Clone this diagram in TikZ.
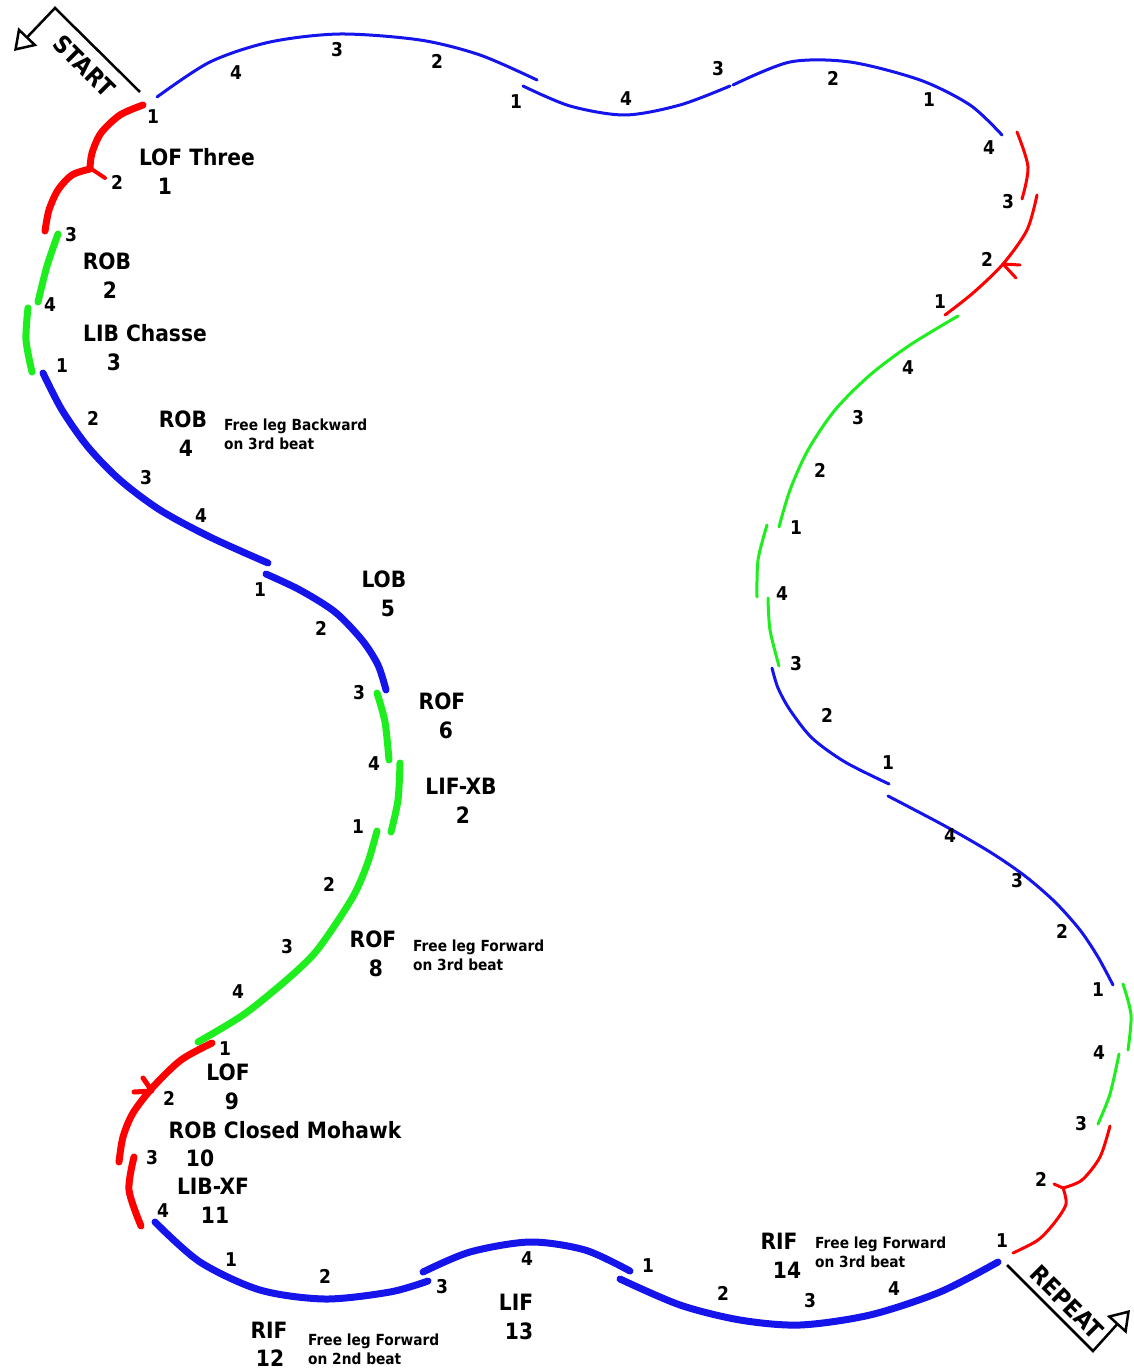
\documentclass[tikz,border=0pt]{standalone}
\usepackage{fontspec}
\setmainfont{DejaVu Sans Condensed}
\usetikzlibrary{arrows.meta}
\definecolor{trackred}{RGB}{255,0,0}
\definecolor{trackgreen}{RGB}{30,238,30}
\definecolor{trackblue}{RGB}{20,20,235}
\begin{document}
\begin{tikzpicture}[x=1pt,y=-1pt,
  edge/.style={line cap=round,line join=round},
  heavy/.style={edge,line width=7pt},
  light/.style={edge,line width=3pt},
  beat/.style={font=\fontsize{19}{19}\selectfont\bfseries,inner sep=0pt,text height=13.9pt,text depth=0pt},
  stepname/.style={font=\fontsize{22.5}{24}\selectfont\bfseries,inner sep=0pt,text height=16.4pt,text depth=0pt},
  note/.style={font=\fontsize{15.3}{19}\selectfont\bfseries,inner sep=0pt,align=left,anchor=west},
  banner/.style={font=\fontsize{24}{24}\selectfont\bfseries,inner sep=0pt,text height=17.5pt,text depth=0pt,rotate=-45},
  pointer/.style={line width=2.5pt,line join=miter,-{Triangle[open,length=20pt,width=26pt,line width=2.5pt]}}
]
\useasboundingbox (0,0) rectangle (1133,1370);

% ---------- left half of the pattern (heavy strokes) ----------
% LOF three turn
\draw[heavy,trackred] plot[smooth] coordinates {(143,105) (120,115) (101,133) (92,153) (90,168)};
\draw[heavy,trackred] plot[smooth] coordinates {(90,169) (72,175) (58,190) (49,210) (45,231)};
\draw[edge,trackred,line width=4pt] (90,168) -- (105,178);
% ROB, LIB chasse
\draw[heavy,trackgreen] plot[smooth] coordinates {(58,234) (47,266) (38,302)};
\draw[heavy,trackgreen] plot[smooth] coordinates {(28,308) (26,340) (32,372)};
% ROB
\draw[heavy,trackblue] plot[smooth] coordinates {(43,373) (62,410) (88,447) (120,480) (160,510) (210,537) (268,563)};
% LOB
\draw[heavy,trackblue] plot[smooth] coordinates {(266,574) (300,590) (335,612) (362,640) (378,665) (386,690)};
% ROF, LIF-XB
\draw[heavy,trackgreen] plot[smooth] coordinates {(377,693) (385,722) (389,760)};
\draw[heavy,trackgreen] plot[smooth] coordinates {(400,763) (398,800) (391,832)};
% ROF
\draw[heavy,trackgreen] plot[smooth] coordinates {(377,831) (368,862) (355,893) (335,925) (313,955) (283,983) (243,1015) (198,1042)};
% LOF to ROB closed mohawk
\draw[heavy,trackred] plot[smooth] coordinates {(212,1043) (181,1060) (153,1087) (133,1113) (123,1137) (119,1162)};
\draw[edge,trackred,line width=5pt] (143,1078) -- (152,1091) -- (134,1092);
% LIB-XF
\draw[heavy,trackred] plot[smooth] coordinates {(134,1157) (129,1190) (141,1226)};
% RIF, LIF, RIF
\draw[heavy,trackblue] plot[smooth] coordinates {(155,1222) (200,1262) (260,1290) (325,1299) (390,1292) (428,1281)};
\draw[heavy,trackblue] plot[smooth] coordinates {(423,1272) (470,1252) (530,1242) (585,1250) (630,1271)};
\draw[heavy,trackblue] plot[smooth] coordinates {(620,1279) (680,1305) (740,1320) (800,1325) (870,1315) (940,1292) (998,1262)};

% ---------- right half of the pattern (light strokes) ----------
\draw[light,trackred] plot[smooth] coordinates {(1110,1126) (1100,1157) (1082,1180) (1063,1188)};
\draw[light,trackred] plot[smooth] coordinates {(1063,1188) (1066,1204) (1055,1222) (1038,1240) (1013,1253)};
\draw[edge,trackred,line width=3pt] (1063,1188) -- (1054,1184);
\draw[light,trackgreen] plot[smooth] coordinates {(1098,1124) (1110,1094) (1119,1054)};
\draw[light,trackgreen] plot[smooth] coordinates {(1128,1050) (1131,1015) (1123,984)};
\draw[light,trackblue] plot[smooth] coordinates {(1113,985) (1098,957) (1080,930) (1055,902) (1025,876) (990,852) (945,826) (888,796)};
\draw[light,trackblue] plot[smooth] coordinates {(889,784) (845,762) (812,738) (790,710) (778,688) (772,668)};
\draw[light,trackgreen] plot[smooth] coordinates {(779,666) (770,630) (768,598)};
\draw[light,trackgreen] plot[smooth] coordinates {(757,597) (758,560) (767,525)};
\draw[light,trackgreen] plot[smooth] coordinates {(779,527) (790,490) (808,450) (835,410) (870,375) (910,345) (958,316)};
\draw[light,trackred] plot[smooth] coordinates {(945,315) (973,293) (1003,264) (1027,230) (1037,195)};
\draw[edge,trackred,line width=3pt] (1020,265) -- (1003,264) -- (1016,278);
\draw[light,trackred] plot[smooth] coordinates {(1022,199) (1028,167) (1017,132)};
\draw[light,trackblue] plot[smooth] coordinates {(1002,135) (970,105) (920,80) (850,62) (790,62) (733,85)};
\draw[light,trackblue] plot[smooth] coordinates {(730,86) (680,105) (625,115) (570,106) (523,86)};
\draw[light,trackblue] plot[smooth] coordinates {(537,80) (480,55) (420,40) (340,34) (270,42) (210,62) (157,97)};

% ---------- start and repeat pointers ----------
\coordinate (startfoot) at (140,92);
\coordinate (startbend) at (55,8);
\coordinate (starttip) at (14,51);
\draw[pointer] (startfoot) -- (startbend) -- (starttip);
\node[banner] (starttext) at (84,66) {START};
\coordinate (repfoot) at (1007,1265);
\coordinate (repbend) at (1093,1351);
\coordinate (reptip) at (1130,1310);
\draw[pointer] (repfoot) -- (repbend) -- (reptip);
\node[banner] (reptext) at (1067,1302) {REPEAT};

% ---------- beat counts ----------
\foreach \bx/\by/\bt [count=\bi] in {
  153/117/1, 117/183/2, 71/235/3, 50/305/4, 62/366/1, 93/419/2, 146/478/3, 201/516/4,
  260/590/1, 321/629/2, 359/693/3, 374/764/4, 358/827/1, 329/885/2, 287/947/3, 238/992/4,
  225/1049/1, 169/1099/2, 152/1158/3, 163/1211/4, 231/1260/1, 325/1277/2, 442/1287/3,
  527/1259/4, 648/1266/1, 723/1294/2, 810/1301/3, 894/1289/4, 1002/1241/1,
  1041/1180/2, 1081/1124/3, 1099/1053/4, 1098/990/1, 1062/932/2, 1017/881/3, 950/836/4,
  888/763/1, 827/716/2, 796/664/3, 782/594/4, 796/528/1, 820/471/2, 858/418/3, 908/368/4,
  940/302/1, 987/260/2, 1008/202/3, 989/148/4, 929/100/1, 833/79/2, 718/69/3, 626/99/4,
  516/102/1, 437/62/2, 337/50/3, 236/73/4}
  \node[beat] (beat\bi) at (\bx,\by) {\bt};

% ---------- step names and numbers ----------
\foreach \sx/\sy/\st [count=\si] in {
  197/157/LOF Three, 165/186/1, 107/261/ROB, 110/290/2, 145/333/LIB Chasse, 114/362/3,
  183/419/ROB, 186/448/4, 384/579/LOB, 388/608/5, 442/701/ROF, 446/730/6,
  461/786/LIF-XB, 463/815/2, 373/939/ROF, 376/968/8, 228/1072/LOF, 232/1101/9,
  285/1130/ROB Closed Mohawk, 200/1158/10, 213/1186/LIB-XF, 215/1215/11,
  269/1330/RIF, 270/1358/12, 516/1302/LIF, 519/1331/13, 779/1241/RIF, 787/1270/14}
  \node[stepname] (step\si) at (\sx,\sy) {\st};

% ---------- free leg notes ----------
\node[note] (note4) at (224,434) {Free leg Backward\\on 3rd beat};
\node[note] (note8) at (413,955) {Free leg Forward\\on 3rd beat};
\node[note] (note12) at (308,1349) {Free leg Forward\\on 2nd beat};
\node[note] (note14) at (815,1252) {Free leg Forward\\on 3rd beat};
\end{tikzpicture}
\end{document}
